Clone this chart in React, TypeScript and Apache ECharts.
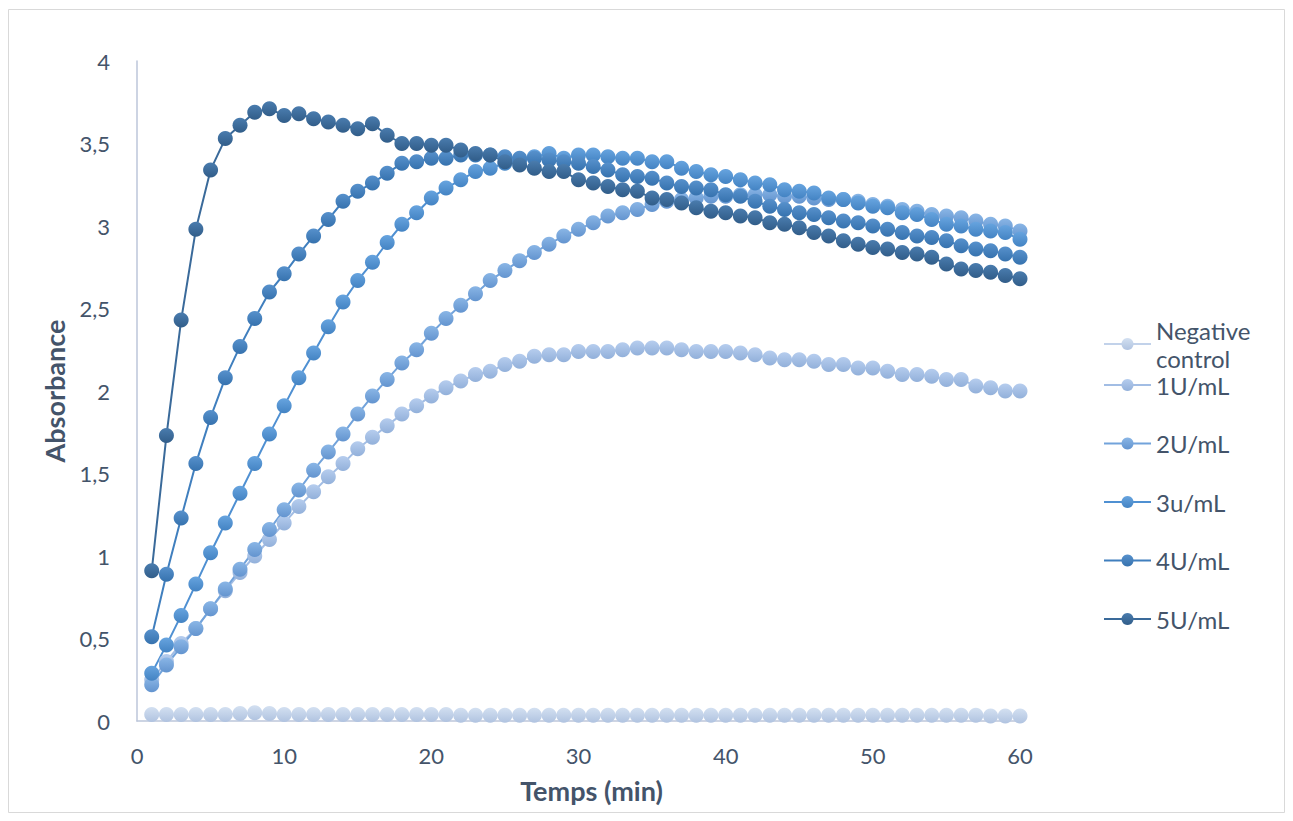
import React, { useEffect, useRef } from "react";
import * as echarts from "echarts";

const minutes = [
  1, 2, 3, 4, 5, 6, 7, 8, 9, 10, 11, 12, 13, 14, 15, 16, 17, 18, 19, 20,
  21, 22, 23, 24, 25, 26, 27, 28, 29, 30, 31, 32, 33, 34, 35, 36, 37, 38, 39, 40,
  41, 42, 43, 44, 45, 46, 47, 48, 49, 50, 51, 52, 53, 54, 55, 56, 57, 58, 59, 60,
];

const negativeControl = [
  0.04, 0.04, 0.04, 0.04, 0.04, 0.04, 0.045, 0.05, 0.045, 0.04,
  0.04, 0.04, 0.04, 0.04, 0.04, 0.04, 0.04, 0.04, 0.04, 0.04,
  0.04, 0.035, 0.035, 0.035, 0.035, 0.035, 0.035, 0.035, 0.035, 0.035,
  0.035, 0.035, 0.035, 0.035, 0.035, 0.035, 0.035, 0.035, 0.035, 0.035,
  0.035, 0.035, 0.035, 0.035, 0.035, 0.035, 0.035, 0.035, 0.035, 0.035,
  0.035, 0.035, 0.035, 0.035, 0.035, 0.035, 0.035, 0.03, 0.03, 0.03,
];

const u1 = [
  0.25, 0.36, 0.47, 0.56, 0.68, 0.79, 0.9, 1.0, 1.1, 1.2,
  1.3, 1.39, 1.48, 1.56, 1.65, 1.72, 1.79, 1.86, 1.91, 1.97,
  2.02, 2.06, 2.1, 2.12, 2.16, 2.18, 2.21, 2.22, 2.22, 2.24,
  2.24, 2.24, 2.25, 2.26, 2.26, 2.26, 2.25, 2.24, 2.24, 2.24,
  2.23, 2.22, 2.2, 2.19, 2.19, 2.18, 2.16, 2.16, 2.14, 2.14,
  2.12, 2.1, 2.1, 2.09, 2.07, 2.07, 2.03, 2.02, 2.0, 2.0,
];

const u2 = [
  0.22, 0.34, 0.45, 0.56, 0.68, 0.8, 0.92, 1.04, 1.16, 1.28,
  1.4, 1.52, 1.63, 1.74, 1.86, 1.97, 2.07, 2.17, 2.25, 2.35,
  2.44, 2.52, 2.59, 2.67, 2.73, 2.79, 2.84, 2.89, 2.94, 2.98,
  3.02, 3.06, 3.08, 3.1, 3.13, 3.15, 3.16, 3.17, 3.18, 3.18,
  3.19, 3.19, 3.19, 3.18, 3.18, 3.17, 3.16, 3.16, 3.15, 3.13,
  3.12, 3.1, 3.09, 3.07, 3.06, 3.05, 3.03, 3.01, 3.0, 2.97,
];

const u3 = [
  0.29, 0.46, 0.64, 0.83, 1.02, 1.2, 1.38, 1.56, 1.74, 1.91,
  2.08, 2.23, 2.39, 2.54, 2.67, 2.78, 2.9, 3.01, 3.08, 3.17,
  3.23, 3.28, 3.33, 3.35, 3.38, 3.4, 3.42, 3.44, 3.41, 3.43,
  3.43, 3.42, 3.41, 3.41, 3.39, 3.39, 3.35, 3.33, 3.31, 3.3,
  3.28, 3.26, 3.25, 3.22, 3.21, 3.2, 3.17, 3.16, 3.14, 3.12,
  3.11, 3.08, 3.07, 3.04, 3.01, 3.0, 2.98, 2.97, 2.96, 2.92,
];

const u4 = [
  0.51, 0.89, 1.23, 1.56, 1.84, 2.08, 2.27, 2.44, 2.6, 2.71,
  2.83, 2.94, 3.04, 3.15, 3.21, 3.26, 3.32, 3.38, 3.39, 3.41,
  3.41, 3.43, 3.43, 3.43, 3.42, 3.41, 3.41, 3.4, 3.39, 3.38,
  3.36, 3.34, 3.31, 3.3, 3.29, 3.26, 3.24, 3.23, 3.22, 3.19,
  3.18, 3.15, 3.12, 3.1, 3.08, 3.07, 3.05, 3.03, 3.02, 3.0,
  2.98, 2.96, 2.94, 2.93, 2.91, 2.88, 2.86, 2.85, 2.83, 2.81,
];

const u5 = [
  0.91, 1.73, 2.43, 2.98, 3.34, 3.53, 3.61, 3.69, 3.71, 3.67,
  3.68, 3.65, 3.63, 3.61, 3.59, 3.62, 3.55, 3.5, 3.5, 3.49,
  3.49, 3.46, 3.44, 3.43, 3.39, 3.37, 3.35, 3.33, 3.33, 3.28,
  3.26, 3.24, 3.22, 3.21, 3.17, 3.16, 3.14, 3.11, 3.09, 3.08,
  3.06, 3.05, 3.02, 3.01, 2.99, 2.96, 2.94, 2.91, 2.89, 2.87,
  2.86, 2.84, 2.83, 2.81, 2.77, 2.74, 2.73, 2.72, 2.7, 2.68,
];

const seriesNames = ["Negative control", "1U/mL", "2U/mL", "3u/mL", "4U/mL", "5U/mL"];
const seriesValues = [negativeControl, u1, u2, u3, u4, u5];
const seriesColors = ["#c2d2ea", "#a2bde4", "#72a3db", "#4f90d2", "#407fbe", "#3a6a9a"];
const seriesLight = ["#d3e0f1", "#b6cdee", "#8ab6e6", "#67a4df", "#5791cc", "#4a7cae"];
const seriesDark = ["#b0c3e0", "#92b0da", "#6394cf", "#4383c3", "#3672ae", "#315d89"];

const yTicks = [0, 0.5, 1, 1.5, 2, 2.5, 3, 3.5, 4];
const xTicks = [0, 10, 20, 30, 40, 50, 60];

const textColor = "#44546a";
const axisColor = "#bcc6da";
const font = "Lato";

export default function App() {
  const ref = useRef<HTMLDivElement>(null);

  useEffect(() => {
    if (!ref.current) return;
    const chart = echarts.init(ref.current, null, { renderer: "svg" });

    const series = seriesNames.map((name, i) => ({
      name,
      type: "line",
      data: minutes.map((m, j) => [m, seriesValues[i][j]]),
      symbol: "circle",
      symbolSize: 15,
      showSymbol: true,
      lineStyle: { color: seriesColors[i], width: 2 },
      itemStyle: {
        color: new echarts.graphic.LinearGradient(0, 0, 0, 1, [
          { offset: 0, color: seriesLight[i] },
          { offset: 1, color: seriesDark[i] },
        ]),
      },
      emphasis: { disabled: true },
    }));

    chart.setOption({
      animation: false,
      textStyle: { fontFamily: font },
      graphic: [
        {
          type: "rect",
          shape: { x: 8.5, y: 9.5, width: 1276, height: 803 },
          style: { fill: "none", stroke: "#d9d9d9", lineWidth: 1 },
          silent: true,
        },
      ],
      grid: { left: 137, right: 273, top: 61, bottom: 100 },
      xAxis: {
        type: "value",
        min: xTicks[0],
        max: xTicks[xTicks.length - 1],
        interval: 10,
        axisLine: { show: true, lineStyle: { color: axisColor, width: 1.5 } },
        axisTick: { show: false },
        splitLine: { show: false },
        axisLabel: { fontSize: 22, color: textColor, margin: 23, fontFamily: font },
        name: "Temps (min)",
        nameLocation: "middle",
        nameGap: 56,
        nameTextStyle: {
          fontSize: 27,
          fontWeight: "bold",
          color: textColor,
          fontFamily: font,
          padding: [0, 0, 0, 26],
        },
      },
      yAxis: {
        type: "value",
        min: yTicks[0],
        max: yTicks[yTicks.length - 1],
        interval: 0.5,
        axisLine: { show: true, lineStyle: { color: axisColor, width: 1.5 } },
        axisTick: { show: false },
        splitLine: { show: false },
        axisLabel: {
          fontSize: 22,
          color: textColor,
          margin: 27,
          fontFamily: font,
          formatter: (v: number) => String(v).replace(".", ","),
        },
        name: "Absorbance",
        nameLocation: "middle",
        nameGap: 69,
        nameRotate: 90,
        nameTextStyle: { fontSize: 27, fontWeight: "bold", color: textColor, fontFamily: font },
      },
      legend: [
        {
          data: [seriesNames[0]],
          orient: "vertical",
          left: 1098,
          top: 297,
          itemWidth: 47,
          itemHeight: 15,
          itemGap: 0,
          selectedMode: false,
          formatter: () => "Negative\ncontrol",
          textStyle: {
            fontSize: 24,
            color: textColor,
            fontFamily: font,
            lineHeight: 28,
            padding: [28, 0, 0, 0],
          },
        },
        {
          data: seriesNames.slice(1),
          orient: "vertical",
          left: 1098,
          top: 368,
          itemWidth: 47,
          itemHeight: 15,
          itemGap: 34.5,
          selectedMode: false,
          textStyle: { fontSize: 24, color: textColor, fontFamily: font, lineHeight: 24 },
        },
      ],
      series,
    });

    return () => chart.dispose();
  }, []);

  return (
    <div
      ref={ref}
      style={{ position: "absolute", left: 0, top: 0, width: 1293, height: 821, background: "#fff" }}
    />
  );
}
